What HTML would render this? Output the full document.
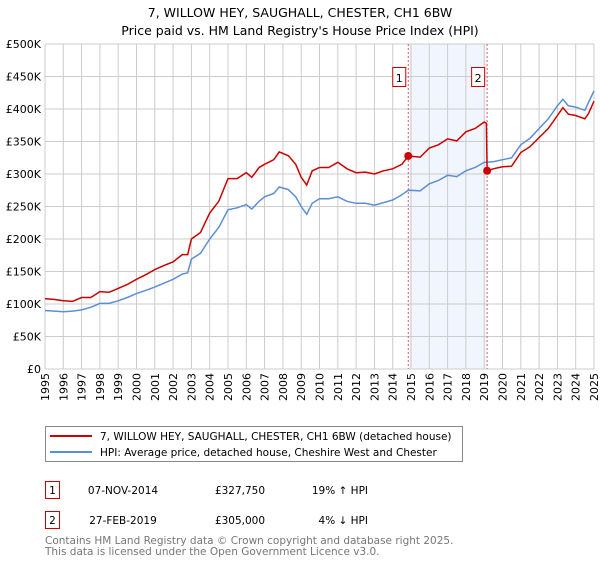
<!DOCTYPE html>
<html><head><meta charset="utf-8"><style>
body{margin:0;background:#fff;font-family:"DejaVu Sans","Liberation Sans",sans-serif;}
svg text{font-family:"DejaVu Sans","Liberation Sans",sans-serif;}
</style></head><body>
<svg id="chart" width="600" height="560" xmlns="http://www.w3.org/2000/svg">
<text x="300" y="17" text-anchor="middle" font-size="12.5">7, WILLOW HEY, SAUGHALL, CHESTER, CH1 6BW</text>
<text x="300" y="35" text-anchor="middle" font-size="12.5">Price paid vs. HM Land Registry's House Price Index (HPI)</text>
<g id="plot"></g>
<g>
<rect x="45.5" y="426.5" width="417" height="35" fill="#fff" stroke="#888"/>
<line x1="50" y1="436" x2="92" y2="436" stroke="#cc0000" stroke-width="2"/>
<text x="100" y="440" font-size="10.5">7, WILLOW HEY, SAUGHALL, CHESTER, CH1 6BW (detached house)</text>
<line x1="50" y1="452" x2="92" y2="452" stroke="#5b8fd4" stroke-width="2"/>
<text x="100" y="456" font-size="10.5">HPI: Average price, detached house, Cheshire West and Chester</text>
</g>
<g font-size="10.5">
<rect x="45.5" y="481.5" width="14" height="17" fill="#fff" stroke="#cc0000"/>
<text x="52.5" y="494" text-anchor="middle">1</text>
<text x="123" y="494" text-anchor="middle">07-NOV-2014</text>
<text x="240" y="494" text-anchor="middle">£327,750</text>
<text x="368" y="494" text-anchor="end">19% ↑ HPI</text>
<rect x="45.5" y="511.5" width="14" height="17" fill="#fff" stroke="#cc0000"/>
<text x="52.5" y="524" text-anchor="middle">2</text>
<text x="123" y="524" text-anchor="middle">27-FEB-2019</text>
<text x="240" y="524" text-anchor="middle">£305,000</text>
<text x="368" y="524" text-anchor="end">4% ↓ HPI</text>
</g>
<text x="45" y="544" font-size="10.5" fill="#777">Contains HM Land Registry data © Crown copyright and database right 2025.</text>
<text x="45" y="555" font-size="10.5" fill="#777">This data is licensed under the Open Government Licence v3.0.</text>
</svg>
<script>
const yearTicks=[1995,1996,1997,1998,1999,2000,2001,2002,2003,2004,2005,2006,2007,2008,2009,2010,2011,2012,2013,2014,2015,2016,2017,2018,2019,2020,2021,2022,2023,2024,2025];
const valueTicks=[0,50,100,150,200,250,300,350,400,450,500];
const hpiYears=[1995,1995.5,1996,1996.5,1997,1997.5,1998,1998.5,1999,1999.5,2000,2000.5,2001,2001.5,2002,2002.5,2002.8,2003,2003.5,2004,2004.5,2005,2005.5,2006,2006.3,2006.7,2007,2007.5,2007.8,2008.3,2008.7,2009,2009.3,2009.6,2010,2010.5,2011,2011.5,2012,2012.5,2013,2013.5,2014,2014.5,2014.85,2015.5,2016,2016.5,2017,2017.5,2018,2018.5,2019,2019.5,2020,2020.5,2021,2021.5,2022,2022.5,2023,2023.3,2023.6,2024,2024.5,2024.7,2025];
const hpiValues=[90,89,88,89,91,95,101,101,105,110,116,121,126,132,138,146,148,169,178,200,218,245,248,253,246,258,265,270,280,276,265,250,238,255,262,262,265,258,255,255,252,256,260,268,275,274,285,290,298,296,305,310,318,319,322,325,345,355,370,385,405,415,405,403,398,410,428];
const propYears=[1995,1995.5,1996,1996.5,1997,1997.5,1998,1998.5,1999,1999.5,2000,2000.5,2001,2001.5,2002,2002.5,2002.8,2003,2003.5,2004,2004.5,2005,2005.5,2006,2006.3,2006.7,2007,2007.5,2007.8,2008.3,2008.7,2009,2009.3,2009.6,2010,2010.5,2011,2011.5,2012,2012.5,2013,2013.5,2014,2014.5,2014.85,2015.5,2016,2016.5,2017,2017.5,2018,2018.5,2019,2019.12,2019.16,2019.5,2020,2020.5,2021,2021.5,2022,2022.5,2023,2023.3,2023.6,2024,2024.5,2024.7,2025];
const propValues=[108,107,105,104,110,110,119,118,124,130,138,145,153,159,165,176,176,200,210,240,258,293,293,302,295,310,315,322,334,328,315,295,283,305,310,310,318,308,302,303,300,305,308,315,327.75,326,340,345,354,351,365,370,380,378,305,308,311,312,333,342,356,370,390,402,392,390,385,393,412];
const saleYears=[2014.85,2019.16];
const saleValues=[327.75,305];
const saleLabels=["1","2"];
const L=45,R=594,T=44,B=369;
const xS=y=>L+(y-1995)/30*(R-L);
const yS=v=>B-v/500*(B-T);
const NS="http://www.w3.org/2000/svg";
const plot=document.getElementById('plot');
function mk(tag,attrs,parent){const e=document.createElementNS(NS,tag);for(const k in attrs)e.setAttribute(k,attrs[k]);(parent||plot).appendChild(e);return e;}
const band=mk('rect',{x:xS(saleYears[0]),y:T,width:xS(saleYears[1])-xS(saleYears[0]),height:B-T,fill:'#eef3fd',opacity:0.8});


yearTicks.forEach(yr=>{
  const g=mk('line',{x1:xS(yr),x2:xS(yr),y1:T,y2:B,stroke:'#ccc','stroke-width':1});
  
  
  const t=mk('text',{x:0,y:0,'font-size':11,'text-anchor':'end',transform:`translate(${xS(yr)+4},${B+4}) rotate(-90)`});
  t.textContent=yr;
  
  
});
valueTicks.forEach(v=>{
  const g=mk('line',{x1:L,x2:R,y1:yS(v),y2:yS(v),stroke:'#ccc','stroke-width':1});
  
  
  const t=mk('text',{x:L-4,y:yS(v)+4,'font-size':11,'text-anchor':'end'});
  t.textContent=v===0?'£0':'£'+v+'K';
  
  
});
saleYears.forEach((yr,i)=>{
  const l=mk('line',{x1:xS(yr),x2:xS(yr),y1:T,y2:B,stroke:'#e06060','stroke-width':1,'stroke-dasharray':'2,2'});
  
  
});
function pts(xs,vs){return xs.map((x,i)=>xS(x).toFixed(1)+','+yS(vs[i]).toFixed(1)).join(' ');}
const hl=mk('polyline',{points:pts(hpiYears,hpiValues),fill:'none',stroke:'#5b8fd4','stroke-width':1.5});


const pl=mk('polyline',{points:pts(propYears,propValues),fill:'none',stroke:'#cc0000','stroke-width':1.5});


saleYears.forEach((yr,i)=>{
  const c=mk('circle',{cx:xS(yr),cy:yS(saleValues[i]),r:4,fill:'#cc0000'});
  
  
  const bx=mk('rect',{x:xS(yr)-15.5,y:67.5,width:13,height:19,fill:'#fff',stroke:'#cc0000'});
  
  
  const t=mk('text',{x:xS(yr)-9,y:82,'font-size':11,'text-anchor':'middle'});
  t.textContent=saleLabels[i];
  
  
});
</script>
</body></html>
